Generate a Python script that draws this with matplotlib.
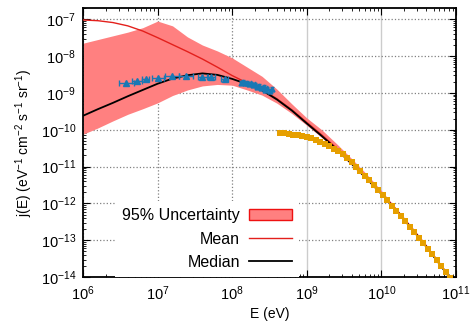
import numpy as np
import matplotlib
matplotlib.use("Agg")
from matplotlib import pyplot as plt
from matplotlib.patches import Patch
from matplotlib.lines import Line2D

plt.rcParams['font.family'] = ['Liberation Sans', 'DejaVu Sans']
plt.rcParams['mathtext.fontset'] = 'custom'
plt.rcParams['mathtext.rm'] = 'Liberation Sans'
plt.rcParams['mathtext.it'] = 'Liberation Sans:italic'
plt.rcParams['mathtext.bf'] = 'Liberation Sans:bold'
plt.rcParams['font.size'] = 10

# model curves, log10(E / eV) and log10(j)
loge = [6.0, 6.2, 6.4, 6.6, 6.8, 7.0, 7.2, 7.4, 7.6, 7.8, 8.0, 8.2, 8.4,
        8.6, 8.8, 9.0, 9.2, 9.4, 9.6, 9.8, 10.0, 10.2, 10.4, 10.6, 10.8, 11.0]
band_hi = [-7.65, -7.55, -7.45, -7.35, -7.23, -7.05, -7.18, -7.48, -7.70, -7.86,
           -8.05, -8.30, -8.55, -8.90, -9.30, -9.68, -10.00, -10.38, -10.78,
           -11.20, -11.65, -12.13, -12.61, -13.11, -13.65, -14.20]
band_lo = [-10.12, -9.95, -9.76, -9.58, -9.43, -9.27, -9.07, -8.92, -8.81, -8.77,
           -8.79, -8.92, -9.06, -9.28, -9.56, -9.88, -10.21, -10.57, -10.96,
           -11.36, -11.78, -12.23, -12.71, -13.21, -13.74, -14.29]
mean = [-7.02, -7.04, -7.09, -7.18, -7.32, -7.50, -7.69, -7.88, -8.08, -8.30,
        -8.53, -8.73, -8.91, -9.16, -9.46, -9.80, -10.14, -10.50, -10.89,
        -11.30, -11.72, -12.17, -12.65, -13.15, -13.68, -14.23]
median = [-9.62, -9.44, -9.27, -9.09, -8.92, -8.75, -8.61, -8.52, -8.47, -8.51,
          -8.62, -8.76, -8.93, -9.18, -9.48, -9.83, -10.17, -10.53, -10.92,
          -11.32, -11.74, -12.19, -12.67, -13.17, -13.70, -14.25]

# measured points (blue), sparse part with energy bins
blue_loge = [6.58, 6.72, 6.84, 7.01, 7.19, 7.38, 7.60, 7.72, 7.90]
blue_logj = [-8.73, -8.68, -8.62, -8.59, -8.54, -8.55, -8.56, -8.56, -8.62]
blue_dex = [0.10, 0.07, 0.05, 0.08, 0.09, 0.09, 0.06, 0.05, 0.05]
# dense part
blue2_loge = [8.12, 8.15, 8.17, 8.20, 8.23, 8.25, 8.28, 8.31, 8.33, 8.36,
              8.39, 8.42, 8.44, 8.47, 8.50, 8.53]
blue2_logj = [-8.72, -8.70, -8.74, -8.72, -8.77, -8.74, -8.79, -8.77, -8.83,
              -8.80, -8.86, -8.84, -8.92, -8.88, -8.95, -8.90]

# measured points (orange)
orange_loge = [8.64, 8.70, 8.76, 8.82, 8.88, 8.94, 9.00, 9.06, 9.12, 9.18,
               9.24, 9.30, 9.36, 9.42, 9.48, 9.54, 9.60, 9.66, 9.72, 9.78,
               9.84, 9.90, 9.96, 10.02, 10.08, 10.14, 10.20, 10.26, 10.32,
               10.38, 10.44, 10.50, 10.56, 10.62, 10.68, 10.74, 10.80, 10.86, 10.92]
orange_logj = [-10.10, -10.10, -10.12, -10.13, -10.15, -10.17, -10.20, -10.23,
               -10.28, -10.33, -10.38, -10.44, -10.51, -10.58, -10.67, -10.77,
               -10.88, -11.00, -11.12, -11.25, -11.37, -11.50, -11.63, -11.78,
               -11.92, -12.06, -12.20, -12.34, -12.49, -12.64, -12.78, -12.93,
               -13.08, -13.23, -13.38, -13.53, -13.69, -13.86, -14.02]

band_col = '#ff8080'
mean_col = '#e3201c'
blue_col = '#1a78b4'
orange_col = '#e69f00'

E = 10 ** np.array(loge)

fig = plt.figure(figsize=(4.72, 3.26), dpi=100)
ax = fig.add_axes([0.176, 0.150, 0.790, 0.825])

ax.fill_between(E, 10 ** np.array(band_lo), 10 ** np.array(band_hi),
                color=band_col, lw=0, zorder=2)
ax.plot(E, 10 ** np.array(mean), color=mean_col, lw=1.0, zorder=3)
ax.plot(E, 10 ** np.array(median), color='black', lw=1.3, zorder=4)

be = np.array(blue_loge)
bx = 10 ** be
ax.errorbar(bx, 10 ** np.array(blue_logj),
            xerr=[bx - 10 ** (be - np.array(blue_dex)), 10 ** (be + np.array(blue_dex)) - bx],
            fmt='^', color=blue_col, ms=4.5, lw=1.0, capsize=2, zorder=5)
b2 = 10 ** np.array(blue2_logj)
ax.errorbar(10 ** np.array(blue2_loge), b2,
            yerr=[b2 - b2 / 1.12, b2 * 1.12 - b2],
            fmt='^-', color=blue_col, ms=3.5, lw=1.0, capsize=1.5, zorder=5)

ax.plot(10 ** np.array(orange_loge), 10 ** np.array(orange_logj), 's',
        color=orange_col, ms=5.0, mew=0, zorder=6)

ax.set_xscale('log')
ax.set_yscale('log')
ax.set_xlim(1e6, 1e11)
ax.set_ylim(1e-14, 2e-7)
ax.set_yticks([10.0 ** k for k in range(-14, -6)])
ax.set_xticks([10.0 ** k for k in range(6, 12)])

ax.grid(True, which='major', ls=':', color='#808080', lw=0.9)
ax.set_axisbelow(True)
# the 1e9 and 1e10 verticals are drawn as plain light lines
for i in (3, 4):
    gl = ax.get_xgridlines()[i]
    gl.set_linestyle('-')
    gl.set_color('#cccccc')
    gl.set_linewidth(1.0)

ax.tick_params(which='both', direction='in', top=True, right=True, labelsize=10.5)
ax.tick_params(which='major', length=5, width=0.8, pad=5)
ax.tick_params(which='minor', length=2.5, width=0.6)
for s in ax.spines.values():
    s.set_linewidth(1.3)

ax.set_xlabel('E (eV)', labelpad=3)
ax.set_ylabel(r'j(E) (eV$^{-1}$ cm$^{-2}$ s$^{-1}$ sr$^{-1}$)', labelpad=4)

handles = [Patch(facecolor=band_col, edgecolor='#ee1111', lw=1.0),
           Line2D([], [], color=mean_col, lw=1.0),
           Line2D([], [], color='black', lw=1.3)]
leg = ax.legend(handles, ['95% Uncertainty', 'Mean', 'Median'],
                loc='lower right', bbox_to_anchor=(0.58, 0.0), borderaxespad=0,
                markerfirst=False, handlelength=2.7, handletextpad=0.55,
                labelspacing=0.52, fontsize=11.5, frameon=True, fancybox=False,
                borderpad=0.45)
leg.get_frame().set_facecolor('white')
leg.get_frame().set_edgecolor('none')
leg.get_frame().set_alpha(1.0)
leg.set_zorder(10)

fig.savefig('out.png', dpi=100)
